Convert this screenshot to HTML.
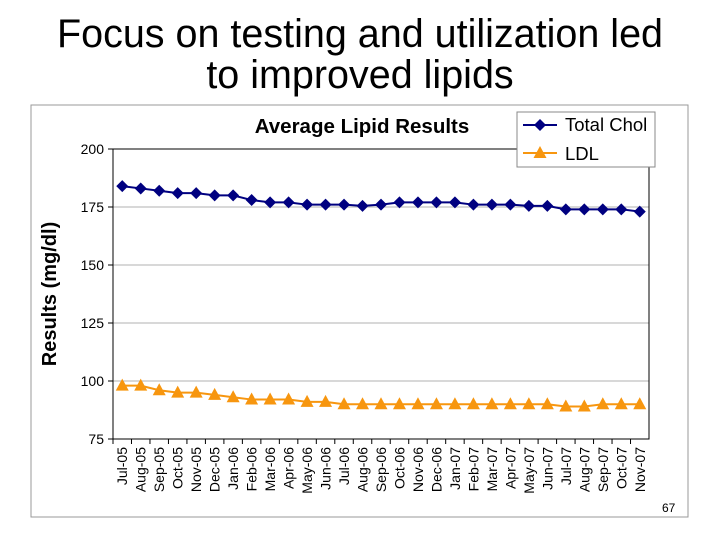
<!DOCTYPE html>
<html><head><meta charset="utf-8"><style>
body{margin:0;background:#fff;font-family:"Liberation Sans",sans-serif;}
#title{position:absolute;left:0;top:14px;width:720px;text-align:center;font-size:39.5px;line-height:41px;color:#000;}
</style></head><body>
<div id="title">Focus on testing and utilization led<br>to improved lipids</div>
<svg id="c" width="720" height="540" style="position:absolute;left:0;top:0"></svg>
<script>
const categories=["Jul-05","Aug-05","Sep-05","Oct-05","Nov-05","Dec-05","Jan-06","Feb-06","Mar-06","Apr-06","May-06","Jun-06","Jul-06","Aug-06","Sep-06","Oct-06","Nov-06","Dec-06","Jan-07","Feb-07","Mar-07","Apr-07","May-07","Jun-07","Jul-07","Aug-07","Sep-07","Oct-07","Nov-07"];
const totalChol=[184,183,182,181,181,180,180,178,177,177,176,176,176,175.5,176,177,177,177,177,176,176,176,175.5,175.5,174,174,174,174,173];
const ldl=[98,98,96,95,95,94,93,92,92,92,91,91,90,90,90,90,90,90,90,90,90,90,90,90,89,89,90,90,90];
const yTicks=[75,100,125,150,175,200];
const svg=document.getElementById('c');const NS='http://www.w3.org/2000/svg';
function mk(t,a,p){const e=document.createElementNS(NS,t);for(const k in a)e.setAttribute(k,a[k]);(p||svg).appendChild(e);return e;}
const L=113,R=649,T=149,B=439;
const x=i=>L+(i+0.5)*(R-L)/categories.length;
const y=v=>B-(v-75)/(200-75)*(B-T);
let e=mk('rect',{x:31,y:105,width:657,height:412,fill:'#fff',stroke:'#999','stroke-width':1});

e=mk('text',{x:362,y:133,'text-anchor':'middle','font-size':20.5,'font-weight':'bold'});e.textContent='Average Lipid Results';

yTicks.forEach(v=>{
 if(v>75&&v<200){e=mk('line',{x1:L,x2:R,y1:y(v),y2:y(v),stroke:'#b0b0b0'});}
 mk('line',{x1:L-5,x2:L,y1:y(v),y2:y(v),stroke:'#000'});
 e=mk('text',{x:L-9,y:y(v)+5,'text-anchor':'end','font-size':14});e.textContent=v;
 
});
e=mk('rect',{x:L,y:T,width:R-L,height:B-T,fill:'none',stroke:'#000'});

e=mk('text',{transform:'translate(56,294) rotate(-90)','text-anchor':'middle','font-size':20,'font-weight':'bold'});e.textContent='Results (mg/dl)';

categories.forEach((c,i)=>{
 mk('line',{x1:L+i*(R-L)/categories.length,x2:L+i*(R-L)/categories.length,y1:B,y2:B+5,stroke:'#000'});
 e=mk('text',{transform:`translate(${x(i)+5},${B+8}) rotate(-90)`,'text-anchor':'end','font-size':14});e.textContent=c;
 
});
function series(vals,color,marker,name){
 e=mk('polyline',{points:vals.map((v,i)=>x(i)+','+y(v)).join(' '),fill:'none',stroke:color,'stroke-width':2});
 
 vals.forEach((v,i)=>{
  const cx=x(i),cy=y(v);
  e=marker==='d'?mk('polygon',{points:`${cx},${cy-6} ${cx+6},${cy} ${cx},${cy+6} ${cx-6},${cy}`,fill:color})
   :mk('polygon',{points:`${cx},${cy-7} ${cx+6.5},${cy+5} ${cx-6.5},${cy+5}`,fill:color});
  
 });
}
series(totalChol,'#000080','d','total-chol');
series(ldl,'#f7960f','t','ldl');
e=mk('rect',{x:517,y:112,width:138,height:55,fill:'#fff',stroke:'#888'});

mk('line',{x1:523,x2:557,y1:125,y2:125,stroke:'#000080','stroke-width':2});
mk('polygon',{points:'540,119 546,125 540,131 534,125',fill:'#000080'});
e=mk('text',{x:565,y:131,'font-size':18.5});e.textContent='Total Chol';

mk('line',{x1:523,x2:557,y1:153,y2:153,stroke:'#f7960f','stroke-width':2});
mk('polygon',{points:'540,146 546.5,158 533.5,158',fill:'#f7960f'});
e=mk('text',{x:565,y:160,'font-size':18.5});e.textContent='LDL';

e=mk('text',{x:662,y:512,'font-size':12});e.textContent='67';

</script>
</body></html>
